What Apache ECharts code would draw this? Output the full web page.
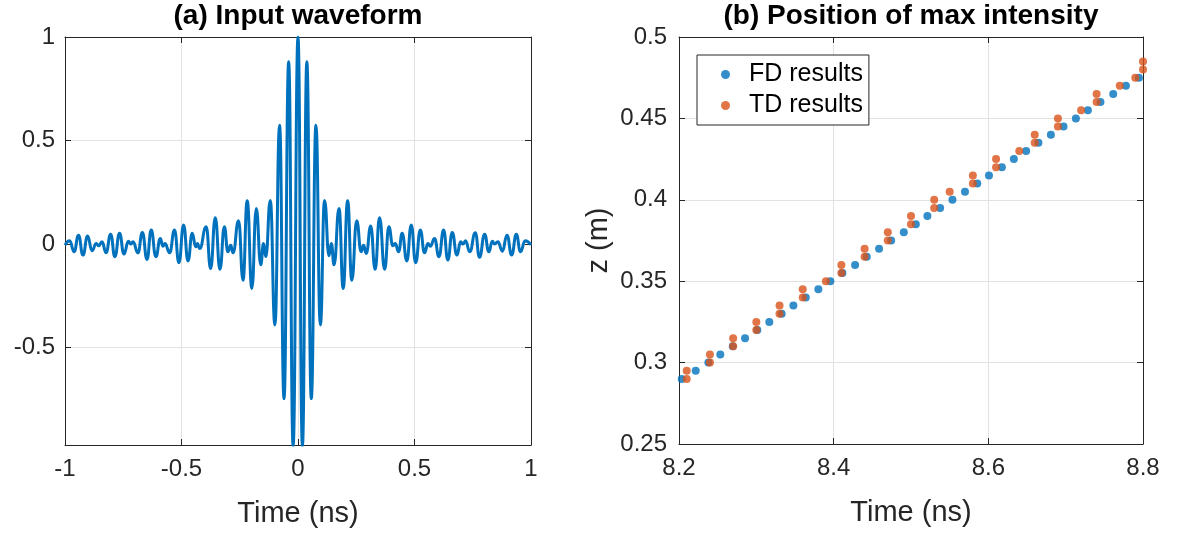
<!DOCTYPE html>
<html>
<head>
<meta charset="utf-8">
<script src="https://cdn.jsdelivr.net/npm/echarts@6/dist/echarts.min.js"></script>
<style>
html,body{margin:0;padding:0;background:#fff;}
#c{width:1180px;height:533px;}
</style>
</head>
<body>
<div id="c"></div>
<script>
// ---- (a) Input waveform: extrema ----
const waveTime = [
-1.000,-0.980,-0.961,-0.942,-0.923,-0.903,-0.884,-0.866,-0.856,-0.841,
-0.824,-0.804,-0.786,-0.766,-0.747,-0.728,-0.718,-0.708,-0.687,-0.668,
-0.648,-0.630,-0.610,-0.591,-0.580,-0.571,-0.551,-0.530,-0.511,-0.491,
-0.472,-0.454,-0.439,-0.432,-0.422,-0.394,-0.375,-0.355,-0.335,-0.316,
-0.301,-0.289,-0.279,-0.255,-0.236,-0.218,-0.198,-0.179,-0.160,-0.148,
-0.138,-0.119,-0.099,-0.079,-0.060,-0.040,-0.021,0.000,0.019,0.038,
0.057,0.077,0.096,0.114,0.133,0.143,0.155,0.176,0.194,0.213,
0.231,0.252,0.271,0.281,0.293,0.312,0.331,0.350,0.372,0.390,
0.407,0.417,0.432,0.447,0.467,0.486,0.505,0.525,0.543,0.558,
0.568,0.586,0.605,0.625,0.643,0.662,0.682,0.698,0.708,0.719,
0.737,0.761,0.779,0.801,0.819,0.834,0.844,0.858,0.877,0.897,
0.917,0.937,0.955,0.975,1.000
];
const waveAmp = [
-0.005,0.016,-0.037,0.043,-0.053,0.039,-0.032,0.003,-0.008,0.011,
-0.042,0.048,-0.061,0.052,-0.048,0.014,0.000,0.011,-0.042,0.056,
-0.074,0.068,-0.061,0.027,-0.010,0.003,-0.042,0.068,-0.090,0.092,
-0.081,0.052,-0.013,0.003,-0.021,0.084,-0.118,0.127,-0.122,0.084,
-0.037,-0.005,-0.042,0.113,-0.174,0.209,-0.214,0.172,-0.100,0.003,
-0.060,0.210,-0.390,0.574,-0.746,0.880,-0.975,1.000,-0.975,0.880,
-0.746,0.574,-0.390,0.210,-0.056,0.003,-0.100,0.172,-0.214,0.209,
-0.174,0.113,-0.037,-0.005,-0.045,0.087,-0.122,0.127,-0.122,0.084,
-0.008,0.003,-0.037,0.052,-0.081,0.092,-0.090,0.068,-0.042,0.003,
-0.010,0.027,-0.061,0.068,-0.077,0.056,-0.053,0.011,0.000,0.016,
-0.037,0.055,-0.064,0.048,-0.037,0.014,0.000,0.011,-0.034,0.043,
-0.053,0.047,-0.037,0.016,-0.004
];

// ---- (b) Position of max intensity ----
const fdTime = [
8.2035,8.2216,8.2380,8.2534,8.2695,8.2854,8.3013,8.3168,8.3328,8.3479,
8.3639,8.3802,8.3957,8.4113,8.4277,8.4428,8.4587,8.4743,8.4907,8.5062,
8.5212,8.5377,8.5536,8.5698,8.5857,8.6008,8.6175,8.6330,8.6489,8.6648,
8.6809,8.6972,8.7132,8.7287,8.7450,8.7615,8.7779,8.7947
];
const fdZ = [
0.290,0.295,0.300,0.305,0.310,0.315,0.320,0.325,0.330,0.335,
0.340,0.345,0.350,0.355,0.360,0.365,0.370,0.375,0.380,0.385,
0.390,0.395,0.400,0.405,0.410,0.415,0.420,0.425,0.430,0.435,
0.440,0.445,0.450,0.455,0.460,0.465,0.470,0.475
];
const tdTime = [
8.21,8.21,8.24,8.24,8.27,8.27,8.30,8.30,8.33,8.33,
8.36,8.36,8.39,8.41,8.41,8.44,8.44,8.47,8.47,8.50,
8.50,8.53,8.53,8.55,8.58,8.58,8.61,8.61,8.64,8.66,
8.66,8.69,8.69,8.72,8.74,8.74,8.77,8.79,8.80,8.80
];
const tdZ = [
0.290,0.295,0.300,0.305,0.310,0.315,0.320,0.325,0.330,0.335,
0.340,0.345,0.350,0.355,0.360,0.365,0.370,0.375,0.380,0.385,
0.390,0.395,0.400,0.405,0.410,0.415,0.420,0.425,0.430,0.435,
0.440,0.445,0.450,0.455,0.460,0.465,0.470,0.475,0.480,0.485
];

const leftYTicks = [-0.5, 0, 0.5, 1];
const titles = ['(a) Input waveform', '(b) Position of max intensity'];
const xNames = ['Time (ns)', 'Time (ns)'];
const yNameRight = 'z (m)';
const seriesNames = ['FD results', 'TD results'];

const FONT = '"Liberation Sans", Arial, Helvetica, sans-serif';
const AX = '#262626';
const GRIDC = '#e2e2e2';
const BLUE = '#0072BD';
const ORANGE = '#D95319';
const TICKFS = 24, NAMEFS = 29, TITLEFS = 28, LEGFS = 25;

const zip = (a, b) => a.map((v, i) => [v, b[i]]);

function baseAxis(extra) {
  return Object.assign({
    axisLine: {show: true, onZero: false, lineStyle: {color: AX, width: 1}},
    axisTick: {show: true, inside: true, length: 6, lineStyle: {color: AX}},
    axisLabel: {show: true, color: AX, fontFamily: FONT, fontSize: TICKFS},
    splitLine: {show: true, lineStyle: {color: GRIDC, width: 1}},
    nameTextStyle: {color: AX, fontFamily: FONT, fontSize: NAMEFS}
  }, extra);
}
function mirrorAxis(extra) {
  return Object.assign({
    axisLine: {show: true, onZero: false, lineStyle: {color: AX, width: 1}},
    axisTick: {show: true, inside: true, length: 6, lineStyle: {color: AX}},
    axisLabel: {show: false},
    splitLine: {show: false}
  }, extra);
}

const chart = echarts.init(document.getElementById('c'), null, {renderer: 'canvas'});
chart.setOption({
  animation: false,
  backgroundColor: '#fff',
  graphic: [
    {type: 'text', x: 298, y: 16, style: {text: titles[0], font: 'bold ' + TITLEFS + 'px ' + FONT, fill: '#000', align: 'center', verticalAlign: 'middle'}},
    {type: 'text', x: 911, y: 16, style: {text: titles[1], font: 'bold ' + TITLEFS + 'px ' + FONT, fill: '#000', align: 'center', verticalAlign: 'middle'}}
  ],
  grid: [
    {left: 65, top: 37, width: 466, height: 408, containLabel: false, outerBoundsMode: 'none'},
    {left: 679, top: 37, width: 464, height: 407, containLabel: false, outerBoundsMode: 'none'}
  ],
  legend: {
    data: seriesNames,
    orient: 'vertical',
    left: 697, top: 55,
    icon: 'circle',
    itemWidth: 37, itemHeight: 9,
    itemGap: 6,
    padding: [7, 6, 7, 24],
    backgroundColor: '#fff',
    borderColor: AX, borderWidth: 1,
    textStyle: {color: '#000', fontFamily: FONT, fontSize: LEGFS, lineHeight: 25}
  },
  xAxis: [
    baseAxis({gridIndex: 0, type: 'value', min: -1, max: 1, interval: 0.5,
      name: xNames[0], nameLocation: 'middle', nameGap: 54,
      axisLabel: {color: AX, fontFamily: FONT, fontSize: TICKFS, margin: 12}}),
    mirrorAxis({gridIndex: 0, type: 'value', position: 'top', min: -1, max: 1, interval: 0.5}),
    baseAxis({gridIndex: 1, type: 'value', min: 8.2, max: 8.8, interval: 0.2,
      name: xNames[1], nameLocation: 'middle', nameGap: 54,
      axisLabel: {color: AX, fontFamily: FONT, fontSize: TICKFS, margin: 12, formatter: v => v.toFixed(1)}}),
    mirrorAxis({gridIndex: 1, type: 'value', position: 'top', min: 8.2, max: 8.8, interval: 0.2})
  ],
  yAxis: [
    baseAxis({gridIndex: 0, type: 'value', min: -0.97, max: 1,
      axisLabel: {color: AX, fontFamily: FONT, fontSize: TICKFS, margin: 10, customValues: leftYTicks},
      axisTick: {show: true, inside: true, length: 6, lineStyle: {color: AX}, customValues: leftYTicks}}),
    mirrorAxis({gridIndex: 0, type: 'value', position: 'right', min: -0.97, max: 1,
      axisTick: {show: true, inside: true, length: 6, lineStyle: {color: AX}, customValues: leftYTicks}}),
    baseAxis({gridIndex: 1, type: 'value', min: 0.25, max: 0.5, interval: 0.05,
      name: yNameRight, nameLocation: 'middle', nameGap: 66, nameRotate: 90,
      axisLabel: {color: AX, fontFamily: FONT, fontSize: TICKFS, margin: 12}}),
    mirrorAxis({gridIndex: 1, type: 'value', position: 'right', min: 0.25, max: 0.5, interval: 0.05})
  ],
  series: [
    {type: 'line', xAxisIndex: 0, yAxisIndex: 0, data: zip(waveTime, waveAmp),
      showSymbol: false, smooth: 0.5, smoothMonotone: 'x', clip: true,
      lineStyle: {color: BLUE, width: 3}, itemStyle: {color: BLUE}},
    {type: 'scatter', name: seriesNames[0], xAxisIndex: 2, yAxisIndex: 2, data: zip(fdTime, fdZ),
      symbol: 'circle', symbolSize: 8, itemStyle: {color: BLUE}, z: 3},
    {type: 'scatter', name: seriesNames[1], xAxisIndex: 2, yAxisIndex: 2, data: zip(tdTime, tdZ),
      symbol: 'circle', symbolSize: 8, itemStyle: {color: ORANGE}, z: 4}
  ]
});
</script>
</body>
</html>
